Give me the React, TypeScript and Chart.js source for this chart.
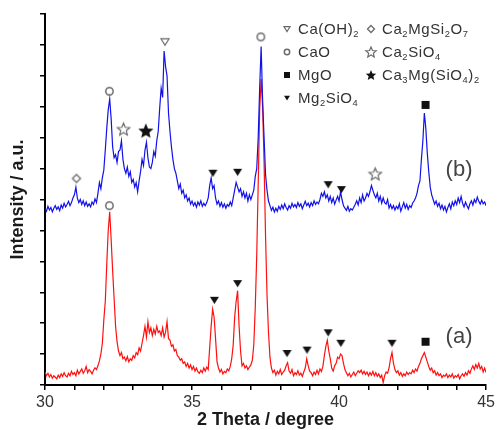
import React, { useEffect, useRef } from 'react';
import { Chart, registerables } from 'chart.js';

Chart.register(...registerables);

// 2θ grid: start angle and step (degrees)
const ANGLE_START = 30;
const ANGLE_STEP = 0.05;

// Sample (a) intensity, 30.00 .. 45.00 every 0.05°
const sampleA = [
  0.42, 0.30, 0.38, 0.26, 0.34, 0.22, 0.30, 0.25, 0.20, 0.32,
  0.24, 0.36, 0.28, 0.40, 0.30, 0.26, 0.38, 0.30, 0.44, 0.34,
  0.40, 0.30, 0.48, 0.36, 0.44, 0.52, 0.38, 0.46, 0.60, 0.40,
  0.50, 0.44, 0.36, 0.48, 0.56, 0.50, 0.62, 0.78, 1.00, 1.35,
  2.10, 2.70, 3.90, 5.00, 5.60, 4.70, 3.70, 2.80, 1.90, 1.40,
  1.10, 0.95, 1.05, 0.85, 0.90, 0.78, 0.92, 0.75, 0.85, 0.80,
  0.95, 0.88, 1.05, 0.98, 1.20, 1.10, 1.35, 1.60, 1.90, 1.55,
  2.05, 1.70, 1.85, 1.60, 1.80, 1.65, 1.90, 1.70, 1.75, 1.60,
  1.85, 1.55, 1.70, 2.05, 1.50, 1.45, 1.25, 1.30, 1.10, 1.15,
  0.95, 0.90, 0.80, 0.85, 0.70, 0.75, 0.60, 0.70, 0.55, 0.65,
  0.50, 0.60, 0.45, 0.55, 0.42, 0.38, 0.48, 0.40, 0.55, 0.45,
  0.58, 0.50, 1.20, 1.90, 2.45, 2.20, 1.50, 0.75, 0.55, 0.42,
  0.50, 0.36, 0.44, 0.40, 0.52, 0.46, 0.60, 0.85, 1.30, 2.20,
  2.70, 3.05, 1.90, 1.10, 0.62, 0.70, 0.55, 0.62, 0.50, 0.58,
  0.65, 0.80, 1.30, 2.50, 4.20, 6.50, 8.90, 9.90, 9.00, 7.20,
  4.80, 2.90, 1.70, 0.90, 0.55, 0.40, 0.48, 0.32, 0.44, 0.36,
  0.50, 0.34, 0.42, 0.48, 0.62, 0.72, 0.45, 0.38, 0.50, 0.30,
  0.40, 0.34, 0.46, 0.32, 0.38, 0.28, 0.42, 0.55, 0.85, 0.62,
  0.45, 0.40, 0.30, 0.42, 0.34, 0.48, 0.36, 0.52, 0.44, 0.60,
  0.95, 1.25, 1.45, 1.10, 0.85, 0.55, 0.45, 0.62, 0.70, 0.90,
  0.85, 1.00, 0.95, 0.70, 0.50, 0.40, 0.30, 0.38, 0.26, 0.34,
  0.42, 0.30, 0.38, 0.46, 0.40, 0.48, 0.36, 0.44, 0.34, 0.42,
  0.30, 0.40, 0.32, 0.44, 0.30, 0.40, 0.28, 0.36, 0.24, 0.32,
  0.08, 0.30, 0.42, 0.38, 0.55, 0.85, 1.05, 0.70, 0.50, 0.40,
  0.46, 0.32, 0.40, 0.28, 0.36, 0.30, 0.42, 0.34, 0.40, 0.36,
  0.48, 0.40, 0.52, 0.45, 0.60, 0.70, 0.85, 0.95, 1.05, 0.90,
  0.75, 0.60, 0.48, 0.55, 0.40, 0.46, 0.32, 0.40, 0.30, 0.36,
  0.24, 0.32, 0.28, 0.36, 0.24, 0.32, 0.26, 0.36, 0.22, 0.30,
  0.26, 0.34, 0.20, 0.30, 0.36, 0.28, 0.40, 0.32, 0.46, 0.38,
  0.52, 0.62, 0.50, 0.66, 0.55, 0.70, 0.52, 0.60, 0.42, 0.55,
  0.40,
];

// Sample (b) intensity (offset trace), 30.00 .. 45.00 every 0.05°
const sampleB = [
  5.70, 5.62, 5.78, 5.66, 5.74, 5.60, 5.72, 5.80, 5.68, 5.76,
  5.64, 5.82, 5.72, 5.88, 5.76, 5.84, 5.94, 5.80, 5.90, 6.05,
  6.15, 6.40, 6.05, 5.90, 6.00, 5.84, 5.96, 5.80, 5.92, 5.78,
  5.86, 5.76, 5.92, 5.84, 6.02, 5.90, 6.20, 6.55, 6.35, 6.70,
  6.95, 7.60, 8.30, 8.90, 9.25, 8.60, 7.70, 7.35, 7.45, 7.20,
  7.55, 7.60, 7.90, 7.30, 7.00, 6.85, 7.05, 6.75, 6.90, 6.55,
  6.65, 6.40, 6.55, 6.25, 6.60, 6.90, 7.30, 7.10, 7.60, 7.85,
  7.35, 7.05, 7.00, 7.20, 7.55, 7.40, 7.90, 8.20, 8.95, 9.60,
  9.30, 10.80, 10.30, 10.00, 8.80, 8.20, 7.70, 7.30, 7.00, 6.85,
  6.60, 6.35, 6.50, 6.20, 6.30, 6.05, 6.15, 5.95, 6.05, 5.85,
  5.95, 5.80, 5.90, 5.75, 5.92, 5.82, 5.96, 5.78, 5.88, 5.80,
  5.90, 6.05, 6.45, 6.70, 6.35, 6.45, 6.05, 5.85, 5.95, 5.78,
  5.90, 5.75, 5.86, 5.72, 5.84, 5.78, 5.92, 5.80, 6.05, 6.30,
  6.55, 6.40, 6.25, 6.35, 6.10, 6.25, 6.05, 6.20, 5.95, 6.15,
  6.00, 6.15, 6.30, 6.75, 7.00, 8.00, 9.60, 10.95, 9.20, 8.00,
  6.80, 6.30, 5.95, 5.80, 5.65, 5.75, 5.60, 5.72, 5.62, 5.78,
  5.68, 5.82, 5.70, 5.86, 5.74, 5.66, 5.80, 5.72, 5.88, 5.76,
  5.84, 5.74, 5.90, 5.78, 5.86, 5.70, 5.82, 5.94, 5.80, 5.88,
  5.76, 5.90, 5.80, 5.96, 5.84, 5.92, 5.86, 6.00, 6.20, 6.10,
  6.25, 6.05, 6.15, 5.95, 6.10, 5.90, 6.05, 5.85, 5.98, 6.10,
  5.95, 6.25, 6.00, 5.80, 5.72, 5.65, 5.78, 5.62, 5.70, 5.66,
  5.75, 5.85, 5.96, 5.82, 6.05, 5.90, 6.15, 5.95, 6.05, 6.20,
  6.10, 6.25, 6.45, 6.30, 6.15, 6.05, 6.20, 5.95, 6.10, 5.88,
  6.05, 5.90, 5.85, 6.00, 5.72, 5.84, 5.70, 5.80, 5.66, 5.78,
  5.70, 5.86, 5.62, 5.76, 5.90, 5.72, 5.84, 5.68, 5.80, 5.74,
  5.88, 5.95, 6.05, 6.20, 6.45, 6.60, 7.30, 7.90, 8.80, 8.30,
  7.50, 6.90, 6.40, 6.15, 6.00, 5.85, 5.95, 5.78, 5.88, 5.70,
  5.82, 5.66, 5.78, 5.60, 5.74, 5.86, 5.70, 5.92, 5.80, 5.96,
  5.84, 6.05, 5.90, 6.10, 5.88, 5.76, 5.92, 5.80, 5.70, 5.86,
  5.96, 5.82, 6.00, 5.90, 6.08, 5.94, 5.85, 5.98, 5.86, 5.92,
  5.80,
];

// Phase markers [2θ, intensity]
const markCaOH2 = [[34.08, 11.1]];
const markCaO = [[32.19, 9.5], [37.34, 11.26], [32.19, 5.8]];
const markMgO = [[42.94, 9.06], [42.94, 1.4]];
const markMg2SiO4 = [
  [35.71, 6.85], [36.55, 6.88], [39.63, 6.48], [40.08, 6.32],
  [35.76, 2.74], [36.55, 3.28], [38.23, 1.02], [38.91, 1.13],
  [39.63, 1.69], [40.06, 1.35], [41.8, 1.35],
];
const markCa2MgSi2O7 = [[31.07, 6.68]];
const markCa2SiO4 = [[32.67, 8.28], [41.23, 6.83]];
const markCa3MgSiO42 = [[33.43, 8.23]];

// Axis setup
const X_MIN = 30;
const X_MAX = 45;
const X_LABEL_EVERY = 5;
const Y_MIN = 0;
const Y_MAX = 12;

// Legend entries (symbol, formula; "_" marks a subscript digit)
const legendCol1 = [
  ['triOpen', 'Ca(OH)_2'],
  ['circle', 'CaO'],
  ['square', 'MgO'],
  ['tri', 'Mg_2SiO_4'],
];
const legendCol2 = [
  ['diamond', 'Ca_2MgSi_2O_7'],
  ['starOpen', 'Ca_2SiO_4'],
  ['star', 'Ca_3Mg(SiO_4)_2'],
];

const GRAY = '#6a6a6a';
const BLACK = '#111111';
const FONT = 'Arial, "Liberation Sans", Helvetica, sans-serif';

function starPath(ctx: CanvasRenderingContext2D, cx: number, cy: number, r: number) {
  const ri = r * 0.45;
  ctx.beginPath();
  for (let i = 0; i < 10; i++) {
    const rad = i % 2 === 0 ? r : ri;
    const a = -Math.PI / 2 + (i * Math.PI) / 5;
    const px = cx + rad * Math.cos(a);
    const py = cy + rad * Math.sin(a);
    if (i === 0) ctx.moveTo(px, py);
    else ctx.lineTo(px, py);
  }
  ctx.closePath();
}

function drawSymbol(ctx: CanvasRenderingContext2D, kind: string, cx: number, cy: number, s: number) {
  ctx.save();
  ctx.lineJoin = 'miter';
  if (kind === 'triOpen' || kind === 'tri') {
    ctx.beginPath();
    ctx.moveTo(cx - s / 2, cy - s * 0.38);
    ctx.lineTo(cx + s / 2, cy - s * 0.38);
    ctx.lineTo(cx, cy + s * 0.42);
    ctx.closePath();
    if (kind === 'tri') {
      ctx.fillStyle = BLACK;
      ctx.fill();
    } else {
      ctx.strokeStyle = GRAY;
      ctx.lineWidth = 1.2;
      ctx.stroke();
    }
  } else if (kind === 'circle') {
    ctx.beginPath();
    ctx.arc(cx, cy, s / 2 - 0.8, 0, Math.PI * 2);
    ctx.strokeStyle = GRAY;
    ctx.lineWidth = 1.5;
    ctx.stroke();
  } else if (kind === 'square') {
    ctx.fillStyle = BLACK;
    ctx.fillRect(cx - s / 2, cy - s / 2, s, s);
  } else if (kind === 'diamond') {
    ctx.beginPath();
    ctx.moveTo(cx, cy - s / 2);
    ctx.lineTo(cx + s / 2, cy);
    ctx.lineTo(cx, cy + s / 2);
    ctx.lineTo(cx - s / 2, cy);
    ctx.closePath();
    ctx.strokeStyle = GRAY;
    ctx.lineWidth = 1.3;
    ctx.stroke();
  } else if (kind === 'starOpen') {
    starPath(ctx, cx, cy + s * 0.05, s / 2);
    ctx.strokeStyle = GRAY;
    ctx.lineWidth = 1.2;
    ctx.stroke();
  } else if (kind === 'star') {
    starPath(ctx, cx, cy + s * 0.05, s / 2);
    ctx.fillStyle = BLACK;
    ctx.fill();
  }
  ctx.restore();
}

function makeSymbolCanvas(kind: string, s: number): HTMLCanvasElement {
  const c = document.createElement('canvas');
  const size = Math.ceil(s + 4);
  c.width = size;
  c.height = size;
  const ctx = c.getContext('2d')!;
  drawSymbol(ctx, kind, size / 2, size / 2, s);
  return c;
}

function drawFormula(ctx: CanvasRenderingContext2D, text: string, x: number, yMid: number, size: number) {
  const base = yMid + size * 0.36;
  let cx = x;
  for (let i = 0; i < text.length; i++) {
    const ch = text[i];
    if (ch === '_') {
      const sub = text[i + 1];
      ctx.font = `${size * 0.62}px ${FONT}`;
      ctx.fillText(sub, cx, base + size * 0.18);
      cx += ctx.measureText(sub).width + 0.6;
      i++;
    } else {
      ctx.font = `${size}px ${FONT}`;
      ctx.fillText(ch, cx, base);
      cx += ctx.measureText(ch).width + 0.6;
    }
  }
}

const annotationPlugin = {
  id: 'xrdAnnotations',
  afterDraw(chart: any) {
    const ctx: CanvasRenderingContext2D = chart.ctx;
    ctx.save();
    ctx.textBaseline = 'alphabetic';
    ctx.textAlign = 'left';
    ctx.fillStyle = '#333333';
    const rows = [29, 52, 75, 98];
    legendCol1.forEach(([kind, txt], i) => {
      drawSymbol(ctx, kind, 287, rows[i], kind === 'circle' ? 7 : 6);
      ctx.fillStyle = '#333333';
      drawFormula(ctx, txt, 298, rows[i], 15);
    });
    legendCol2.forEach(([kind, txt], i) => {
      const s = kind === 'diamond' ? 7 : 11;
      drawSymbol(ctx, kind, 371, rows[i], s);
      ctx.fillStyle = '#333333';
      drawFormula(ctx, txt, 382, rows[i], 15);
    });
    // sample labels
    const xs = chart.scales.x;
    const ys = chart.scales.y;
    ctx.fillStyle = '#444444';
    ctx.font = `22px ${FONT}`;
    ctx.textAlign = 'center';
    ctx.textBaseline = 'middle';
    ctx.fillText('(b)', xs.getPixelForValue(44.08), ys.getPixelForValue(6.95));
    ctx.fillText('(a)', xs.getPixelForValue(44.08), ys.getPixelForValue(1.55));
    ctx.restore();
  },
};

export default function App() {
  const ref = useRef<HTMLCanvasElement | null>(null);

  useEffect(() => {
    if (!ref.current) return;
    const toPts = (arr: number[]) => arr.map((v, i) => ({ x: ANGLE_START + i * ANGLE_STEP, y: v }));
    const toMarks = (arr: number[][]) => arr.map(([x, y]) => ({ x, y }));
    const markerSet = (pts: number[][], kind: string, s: number) => ({
      type: 'scatter' as const,
      data: toMarks(pts),
      pointStyle: makeSymbolCanvas(kind, s),
      pointRadius: 4,
      showLine: false,
      order: 0,
    });

    const chart = new Chart(ref.current, {
      type: 'line',
      data: {
        datasets: [
          markerSet(markCaOH2, 'triOpen', 8),
          markerSet(markCaO, 'circle', 9),
          markerSet(markMgO, 'square', 8),
          markerSet(markMg2SiO4, 'tri', 9),
          markerSet(markCa2MgSi2O7, 'diamond', 8),
          markerSet(markCa2SiO4, 'starOpen', 13),
          markerSet(markCa3MgSiO42, 'star', 16),
          {
            label: '(b)',
            data: toPts(sampleB),
            borderColor: '#1212e8',
            borderWidth: 1.2,
            pointRadius: 0,
            tension: 0,
            order: 1,
          } as any,
          {
            label: '(a)',
            data: toPts(sampleA),
            borderColor: '#ff1010',
            borderWidth: 1.2,
            pointRadius: 0,
            tension: 0,
            order: 2,
          } as any,
        ],
      },
      options: {
        responsive: false,
        animation: false,
        devicePixelRatio: 1,
        events: [],
        layout: { padding: { top: 14, right: 8, left: 0, bottom: 0 } },
        plugins: {
          legend: { display: false },
          tooltip: { enabled: false },
        },
        scales: {
          x: {
            type: 'linear',
            min: X_MIN,
            max: X_MAX,
            ticks: {
              stepSize: 1,
              autoSkip: false,
              maxRotation: 0,
              padding: 3,
              color: '#333333',
              font: { family: FONT, size: 16 },
              callback: (v: any) => (Number(v) % X_LABEL_EVERY === 0 ? String(v) : ''),
            },
            grid: {
              drawOnChartArea: false,
              drawTicks: true,
              tickLength: 5,
              color: '#000000',
              lineWidth: 1.5,
            },
            border: { display: true, color: '#000000', width: 2 },
            title: {
              display: true,
              text: '2 Theta / degree',
              color: '#1a1a1a',
              font: { family: FONT, size: 18, weight: 'bold', lineHeight: '20px' },
              padding: { top: 0, bottom: 0 },
            },
            afterFit: (s: any) => {
              s.height = 45;
            },
          },
          y: {
            type: 'linear',
            min: Y_MIN,
            max: Y_MAX,
            ticks: { stepSize: 1, display: false },
            grid: {
              drawOnChartArea: false,
              drawTicks: true,
              tickLength: 5,
              color: '#000000',
              lineWidth: 1.5,
            },
            border: { display: true, color: '#000000', width: 2 },
            title: {
              display: true,
              text: 'Intensity / a.u.',
              color: '#1a1a1a',
              font: { family: FONT, size: 18, weight: 'bold' },
              padding: { top: 7, bottom: 0 },
            },
            afterFit: (s: any) => {
              s.width = 45;
            },
          },
        },
      } as any,
      plugins: [annotationPlugin],
    });
    return () => chart.destroy();
  }, []);

  return (
    <div style={{ position: 'fixed', left: 0, top: 0, width: 498, height: 430, background: '#ffffff' }}>
      <canvas ref={ref} width={498} height={430} style={{ width: 498, height: 430, display: 'block' }} />
    </div>
  );
}
